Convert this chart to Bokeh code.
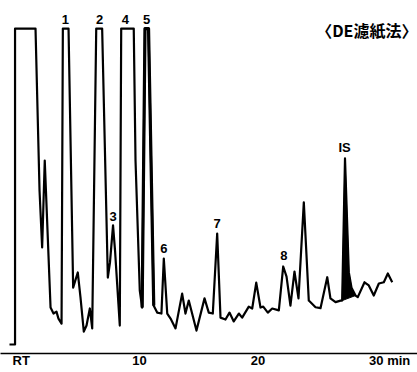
from bokeh.plotting import figure
from bokeh.models import Range1d, FixedTicker, Label, ColumnDataSource
from bokeh.core.properties import value
from bokeh.embed import file_html
from bokeh.resources import INLINE

# Chromatogram trace: retention time (min) and detector signal (relative, 100 = recorder full scale)
time_min = [-0.99, -0.52, -0.52, 1.21, 1.55, 1.77, 1.99, 2.48, 2.73, 2.98, 3.15, 3.41,
            3.52, 4.00, 4.39, 4.78, 5.01, 5.29, 5.52, 5.80, 6.00,
            6.34, 6.84, 7.32, 7.50, 7.76, 7.93, 8.33,
            8.45, 9.51, 9.66, 10.02, 10.22,
            10.46, 10.76, 11.20, 11.49, 11.85,
            12.05, 12.34, 12.62, 13.04, 13.60, 13.88, 14.16, 14.81, 15.49, 15.85, 16.19,
            16.56, 16.84, 17.26, 17.60, 17.96, 18.39, 18.67, 19.23, 19.52, 19.86, 20.22,
            20.45, 20.84, 21.21, 21.77,
            22.14, 22.42, 22.75, 23.09, 23.43, 23.88, 24.30, 24.87, 25.29, 25.86, 26.13,
            26.56, 26.98,
            27.12, 27.36, 27.68, 27.91, 28.25,
            28.44, 29.01, 29.37, 29.79, 30.22, 30.64, 30.98, 31.35]
signal = [0, 0, 100, 100, 48.7, 30.7, 58.2, 11.7, 9.8, 10.4, 8.2, 6.6,
          100, 100, 18.0, 22.8, 14.9, 4.1, 6.0, 11.4, 5.1,
          100, 100, 21.2, 25.9, 37.7, 29.7, 6.0,
          100, 100, 58.2, 17.1, 11.7,
          100, 100, 12.3, 10.1, 9.8,
          27.2, 9.8, 8.2, 5.1, 16.1, 9.8, 13.9, 4.4, 14.6, 10.1, 9.8,
          35.1, 8.5, 7.9, 10.1, 7.3, 9.8, 8.5, 12.0, 11.4, 19.6, 11.7,
          12.0, 10.1, 11.4, 10.8,
          24.7, 21.5, 12.3, 23.1, 14.6, 45.0, 13.9, 11.8, 11.5, 21.3, 14.6,
          13.4, 13.9,
          13.9, 58.9, 22.9, 18.0, 15.5,
          15.0, 19.7, 18.7, 15.5, 19.3, 19.7, 22.5, 19.7]

# Internal standard peak (filled), time window
is_start, is_end = 27.12, 28.25
# Peak 5 (narrow, drawn heavy)
p5_start, p5_end = 10.22, 11.20

# Peak labels
peak_names = ["1", "2", "4", "5", "3", "6", "7", "8", "IS"]
peak_label_t = [3.74, 6.62, 8.81, 10.59, 7.77, 12.05, 16.56, 22.19, 27.32]
peak_label_s = [102.8, 102.8, 102.8, 102.8, 40.5, 30.4, 38.3, 28.2, 62.3]

title_text = "〈DE濾紙法〉"
x_ticks = [0, 10, 20, 30, 31.9]
x_tick_labels = {0: "RT", 10: "10", 20: "20", 30: "30", 31.9: "min"}

p = figure(width=417, height=372, output_backend="svg", toolbar_location=None,
           x_range=Range1d(-1.749, 33.486), y_range=Range1d(-2.85, 108.9),
           y_axis_location=None, min_border_left=0, min_border_right=0,
           min_border_top=0, min_border_bottom=19)
p.outline_line_color = None
p.xgrid.visible = False
p.ygrid.visible = False
p.background_fill_color = "white"
p.border_fill_color = "white"

ax = p.xaxis[0]
ax.ticker = FixedTicker(ticks=x_ticks)
ax.major_label_overrides = x_tick_labels
ax.minor_tick_line_color = None
ax.major_tick_in = 0
ax.major_tick_out = 0
ax.major_label_standoff = -1
ax.axis_line_width = 1.6
ax.axis_line_color = "black"
ax.major_label_text_font = "Liberation Sans"
ax.major_label_text_font_style = "bold"
ax.major_label_text_font_size = "13px"
ax.major_label_text_color = "black"

# filled internal standard peak
fill_t = [t for t in time_min if is_start <= t <= is_end]
fill_s = [s for t, s in zip(time_min, signal) if is_start <= t <= is_end]
p.patch(fill_t, fill_s, fill_color="black", line_color="black", line_width=1)

p.line(time_min, signal, line_color="black", line_width=2.2, line_join="round")

# heavier pen on the narrow peak 5
p5_t = [t for t in time_min if p5_start <= t <= p5_end]
p5_s = [s for t, s in zip(time_min, signal) if p5_start <= t <= p5_end]
p.line(p5_t, p5_s, line_color="black", line_width=3.2, line_join="round")

src = ColumnDataSource(dict(t=peak_label_t, s=peak_label_s, name=peak_names))
p.text(x="t", y="s", text="name", source=src, text_align="center", text_baseline="middle",
       text_font=value("Liberation Sans"), text_font_style="bold", text_font_size="13px",
       text_color="black")

p.add_layout(Label(x=29.2, y=99.7, text=title_text, text_align="center", text_baseline="middle",
                   text_font="Noto Sans CJK JP", text_font_style="bold", text_font_size="16px",
                   text_color="black"))

open("out.html", "w").write(file_html(p, INLINE))
